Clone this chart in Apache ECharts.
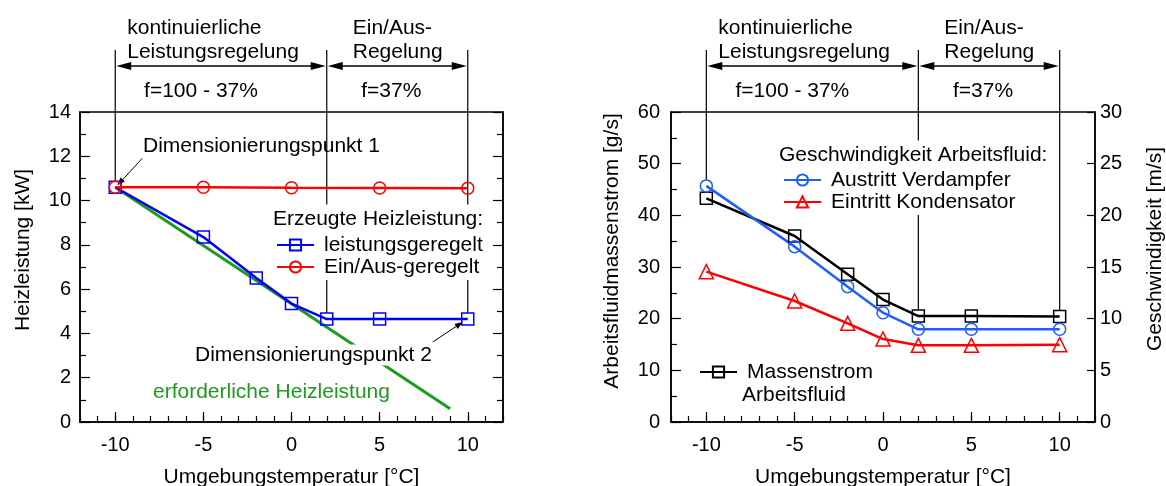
<!DOCTYPE html>
<html>
<head>
<meta charset="utf-8">
<script src="https://cdn.jsdelivr.net/npm/echarts@6/dist/echarts.min.js"></script>
<style>
  html, body { margin: 0; padding: 0; background: #fff; }
  #chart { width: 1166px; height: 486px; }
</style>
</head>
<body>
<div id="chart"></div>
<script>
const FONT = "'Liberation Sans', Arial, Helvetica, sans-serif";
const GREEN = '#1f9a1f';
const BLUE_R = '#1f5fff';

// linkes Diagramm: Heizleistung
const tempsOnOff = [-10, -5, 0, 5, 10];
const heatOnOff = [10.6, 10.6, 10.58, 10.57, 10.56];
const tempsCtrl = [-10, -5, -2, 0, 2, 5, 10];
const heatCtrl = [10.6, 8.35, 6.5, 5.35, 4.65, 4.65, 4.65];
const tempsReq = [-10, 9];
const heatReq = [10.6, 0.6];

// rechtes Diagramm: Massenstrom und Geschwindigkeit
const tempsFluid = [-10, -5, -2, 0, 2, 5, 10];
const massFlow = [43.3, 36.0, 28.6, 23.7, 20.5, 20.5, 20.4];
const speedEvap = [22.85, 16.97, 13.1, 10.58, 8.97, 8.97, 8.97];
const speedCond = [14.55, 11.71, 9.55, 8.03, 7.42, 7.42, 7.48];

const xMajor = [-10, -5, 0, 5, 10];

const pairs = (xs, ys) => xs.map((x, i) => [x, ys[i]]);

const tickLine = { color: '#000', width: 1.2 };
const nameStyle = { fontSize: 21, fontFamily: FONT, color: '#000' };

function xMain(grid) {
  return {
    type: 'value', gridIndex: grid, position: 'bottom', min: -12, max: 12, interval: 1,
    name: 'Umgebungstemperatur [°C]', nameLocation: 'middle', nameGap: 45, nameTextStyle: nameStyle,
    axisLine: { show: true, onZero: false, lineStyle: { color: '#000', width: 1.5 } },
    axisTick: { show: true, inside: true, length: 6, lineStyle: tickLine },
    axisLabel: {
      margin: 13, fontSize: 20, fontFamily: FONT, color: '#000',
      formatter: v => (v % 5 === 0 && Math.abs(v) <= 10) ? String(v) : ''
    },
    splitLine: { show: false }
  };
}
function xMajorTicks(grid) {
  return {
    type: 'value', gridIndex: grid, position: 'bottom', min: -12, max: 12,
    axisLine: { show: false, onZero: false }, axisLabel: { show: false }, splitLine: { show: false },
    axisTick: { show: true, inside: true, length: 10, customValues: xMajor, lineStyle: tickLine }
  };
}

// shift: Versatz des Achsentitels nach oben (px)
function yAxis(grid, pos, min, max, interval, minor, name, gap, margin, shift) {
  return {
    type: 'value', gridIndex: grid, position: pos, min: min, max: max, interval: interval,
    name: name || '', nameLocation: 'middle', nameGap: gap || 0, nameRotate: 90,
    nameTextStyle: Object.assign({ padding: [0, 0, 0, 2 * (shift || 0)] }, nameStyle),
    axisLine: { show: true, onZero: false, lineStyle: { color: '#000', width: 1.5 } },
    axisTick: { show: true, inside: true, length: minor ? 10 : 8, lineStyle: tickLine },
    minorTick: { show: !!minor, splitNumber: 2, length: 6, lineStyle: tickLine },
    axisLabel: { show: !!name, margin: margin || 8, fontSize: 20, fontFamily: FONT, color: '#000' },
    splitLine: { show: false }, minorSplitLine: { show: false }
  };
}

function lineSeries(name, xi, yi, xs, ys, color, symbol, size, width) {
  return {
    name: name, type: 'line', xAxisIndex: xi, yAxisIndex: yi, data: pairs(xs, ys),
    symbol: symbol, symbolSize: size, showSymbol: symbol !== 'none',
    itemStyle: { color: 'rgba(255,255,255,0)', borderColor: color, borderWidth: 1.5 },
    lineStyle: { color: color, width: width },
    emphasis: { disabled: true }, z: 3
  };
}

const legendBase = {
  orient: 'vertical', itemWidth: 37, itemHeight: 14, itemGap: 0, padding: [2, 0, 2, 0],
  backgroundColor: '#fff', selectedMode: false, z: 6,
  textStyle: { fontSize: 21, fontFamily: FONT, color: '#000', lineHeight: 22, padding: [0, 0, 0, 5] }
};

const gridBase = { top: 112, height: 310, show: true, borderColor: '#000', borderWidth: 1.5,
  containLabel: false, outerBoundsMode: 'none' };

const chart = echarts.init(document.getElementById('chart'));
chart.setOption({
  animation: false,
  backgroundColor: '#fff',
  grid: [
    Object.assign({ left: 80, width: 423 }, gridBase),
    Object.assign({ left: 671, width: 424 }, gridBase)
  ],
  xAxis: [xMain(0), xMajorTicks(0), xMain(1), xMajorTicks(1)],
  yAxis: [
    yAxis(0, 'left', 0, 14, 2, true, 'Heizleistung [kW]', 46, 9, 17),
    yAxis(0, 'right', 0, 14, 2, true),
    yAxis(1, 'left', 0, 60, 10, true, 'Arbeitsfluidmassenstrom [g/s]', 48, 11, 16),
    yAxis(1, 'right', 0, 30, 5, false, 'Geschwindigkeit [m/s]', 50, 5, 18)
  ],
  legend: [
    Object.assign({}, legendBase, { data: ['leistungsgeregelt', 'Ein/Aus-geregelt'], left: 276, top: 232 }),
    Object.assign({}, legendBase, { data: ['Austritt Verdampfer', 'Eintritt Kondensator'], left: 783, top: 167 }),
    Object.assign({}, legendBase, { data: ['Massenstrom'], left: 699, top: 359 })
  ],
  series: [
    lineSeries('erforderliche Heizleistung', 0, 0, tempsReq, heatReq, GREEN, 'none', 0, 3),
    lineSeries('leistungsgeregelt', 0, 0, tempsCtrl, heatCtrl, '#0000ff', 'rect', 12, 2.5),
    lineSeries('Ein/Aus-geregelt', 0, 0, tempsOnOff, heatOnOff, '#ff0000', 'circle', 12, 2.5),
    lineSeries('Massenstrom', 2, 2, tempsFluid, massFlow, '#000000', 'rect', 12, 2.5),
    lineSeries('Austritt Verdampfer', 2, 3, tempsFluid, speedEvap, BLUE_R, 'circle', 12, 2.5),
    lineSeries('Eintritt Kondensator', 2, 3, tempsFluid, speedCond, '#ff0000', 'triangle', 14, 2.5)
  ]
});

// Annotationen: Bereichspfeile, Hinweistexte
const TOP_Y = 50, ARROW_Y = 66;

function seg(x1, y1, x2, y2, w) {
  return { type: 'line', z: 1, silent: true, shape: { x1: x1, y1: y1, x2: x2, y2: y2 },
    style: { stroke: '#000', lineWidth: w || 1 } };
}
function head(tx, ty, dx, dy, len, half) {
  const n = Math.sqrt(dx * dx + dy * dy); dx /= n; dy /= n;
  const bx = tx - dx * len, by = ty - dy * len;
  return { type: 'polygon', z: 1, silent: true,
    shape: { points: [[tx, ty], [bx - dy * half, by + dx * half], [bx + dy * half, by - dx * half]] },
    style: { fill: '#000' } };
}
function txt(text, x, y, extra) {
  return { type: 'text', z: 10, silent: true,
    style: Object.assign({ text: text, x: x, y: y, fill: '#000', fontSize: 21, fontFamily: FONT,
      align: 'left', verticalAlign: 'middle' }, extra || {}) };
}

function dimension(xi, stops) {
  const p = stops.map(s => chart.convertToPixel({ xAxisIndex: xi, yAxisIndex: s.yi }, [s.x, s.y]));
  const out = [];
  p.forEach((q, i) => out.push(seg(q[0], TOP_Y, q[0], q[1] - stops[i].off, 1.2)));
  for (let i = 0; i < 2; i++) {
    const a = p[i][0] + 1, b = p[i + 1][0] - 1;
    out.push(seg(a + 8, ARROW_Y, b - 8, ARROW_Y, 1.5));
    out.push(head(a, ARROW_Y, -1, 0, 15, 4));
    out.push(head(b, ARROW_Y, 1, 0, 15, 4));
  }
  const x0 = p[0][0], x1 = p[1][0], x2 = p[2][0];
  out.push(txt('kontinuierliche', x0 + 12, 28));
  out.push(txt('Leistungsregelung', x0 + 12, 52));
  out.push(txt('Ein/Aus-', x1 + 26, 28));
  out.push(txt('Regelung', x1 + 26, 52));
  out.push(txt('f=100 - 37%', (x0 + x1) / 2 - 20, 91, { align: 'center' }));
  out.push(txt('f=37%', (x1 + x2) / 2 - 6, 91, { align: 'center' }));
  return out;
}

const g = [];
g.push.apply(g, dimension(0, [
  { x: -10, y: heatCtrl[0], yi: 0, off: 6 },
  { x: 2, y: heatCtrl[4], yi: 0, off: 6 },
  { x: 10, y: heatCtrl[6], yi: 0, off: 6 }
]));
g.push.apply(g, dimension(2, [
  { x: -10, y: speedEvap[0], yi: 3, off: 6 },
  { x: 2, y: massFlow[4], yi: 2, off: 6 },
  { x: 10, y: massFlow[6], yi: 2, off: 6 }
]));

// Dimensionierungspunkte
const d1 = chart.convertToPixel({ xAxisIndex: 0, yAxisIndex: 0 }, [tempsCtrl[0], heatCtrl[0]]);
const d2 = chart.convertToPixel({ xAxisIndex: 0, yAxisIndex: 0 }, [tempsCtrl[6], heatCtrl[6]]);
g.push(seg(d1[0] + 27, d1[1] - 29, d1[0] + 6, d1[1] - 6, 1));
g.push(head(d1[0] + 2, d1[1] - 2, -25, 27, 8, 3));
g.push(seg(d2[0] - 35, d2[1] + 23, d2[0] - 11, d2[1] + 7, 1));
g.push(head(d2[0] - 5, d2[1] + 3, 30, -20, 8, 3));

g.push(txt('Dimensionierungspunkt 1', 143, 146));
g.push(txt('Dimensionierungspunkt 2', 193, 355, { backgroundColor: '#fff', padding: [0, 2] }));
g.push(txt('erforderliche Heizleistung', 153, 392, { fill: GREEN }));
g.push(txt('Erzeugte Heizleistung:', 271, 219, { backgroundColor: '#fff', padding: [4, 2] }));
g.push(txt('Geschwindigkeit Arbeitsfluid:', 777, 155, { backgroundColor: '#fff', padding: [4, 2] }));
g.push(txt('Arbeitsfluid', 742, 395));

chart.setOption({ graphic: g });
</script>
</body>
</html>
